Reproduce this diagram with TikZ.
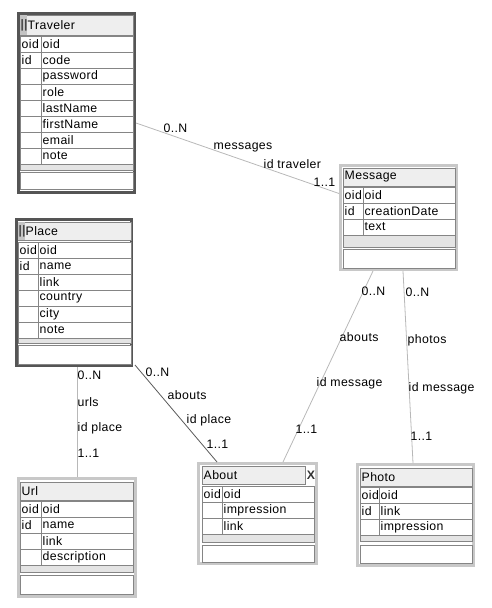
\documentclass[tikz,border=0pt]{standalone}
\usepackage{fontspec}
\setmainfont[LetterSpace=3]{Liberation Sans}
\usepackage{xcolor}
\usetikzlibrary{calc}

\definecolor{framedark}{HTML}{555555}
\definecolor{framelight}{HTML}{C8C8C8}
\definecolor{cellline}{HTML}{858585}
\definecolor{titlefill}{HTML}{EEEEEE}
\definecolor{stripfill}{HTML}{E4E4E4}
\definecolor{markfill}{HTML}{C4C4C4}
\definecolor{linklight}{HTML}{B8B8B8}
\definecolor{linkdark}{HTML}{5A5A5A}

\tikzset{
  darkframe/.style={draw=framedark, fill=white, line width=3pt, inner sep=0pt},
  lightframe/.style={draw=framelight, fill=white, line width=3pt, inner sep=0pt},
  cell/.style={draw=cellline, fill=white, line width=0.8pt},
  titlebox/.style={draw=cellline, fill=titlefill, line width=0.8pt},
  strip/.style={draw=cellline, fill=stripfill, line width=0.8pt},
  lbl/.style={anchor=west, inner sep=1.5pt, font=\fontsize{12.3}{14}\selectfont},
  link/.style={draw=linklight, line width=0.8pt},
}

\begin{document}
\begin{tikzpicture}[x=1pt, y=-1pt]
\useasboundingbox (0,0) rectangle (491,608);

% Traveler
\node[darkframe, minimum width=116, minimum height=179] (traveler) at (76.5,103) {};
\draw[titlebox] (20,15) rectangle (133,35);
\fill[markfill] (20.4,15.4) rectangle (27,34.6);
\node[lbl, inner sep=0.5pt] (traveler-mark) at (20,25) {||};
\node[lbl, inner sep=0.5pt] (traveler-title) at (27,25) {Traveler};
\foreach \k/\n [count=\i] in {oid/oid, id/code, /password, /role, /lastName, /firstName, /email, /note}{
  \pgfmathsetmacro\y{36+16*(\i-1)}
  \draw[cell] (20,\y) rectangle (41,\y+16);
  \draw[cell] (41,\y) rectangle (133,\y+16);
  \node[lbl] (traveler-k\i) at (20,\y+8) {\k};
  \node[lbl] (traveler-n\i) at (41,\y+8) {\n};
}
\draw[strip] (20,164) rectangle (133,170);
\draw[cell] (20,172) rectangle (133,189);

% Place
\node[darkframe, minimum width=115, minimum height=146] (place) at (74,292.5) {};
\draw[titlebox] (18,222) rectangle (131,240);
\fill[markfill] (18.4,222.4) rectangle (25,239.6);
\node[lbl, inner sep=0.5pt] (place-mark) at (18,231) {||};
\node[lbl, inner sep=0.5pt] (place-title) at (25,231) {Place};
\foreach \k/\n [count=\i] in {oid/oid, id/name, /link, /country, /city, /note}{
  \pgfmathsetmacro\y{242+16*(\i-1)}
  \draw[cell] (18,\y) rectangle (38,\y+16);
  \draw[cell] (38,\y) rectangle (131,\y+16);
  \node[lbl] (place-k\i) at (18,\y+8) {\k};
  \node[lbl] (place-n\i) at (38,\y+8) {\n};
}
\draw[strip] (18,338) rectangle (131,343);
\draw[cell] (18,345) rectangle (131,364);

% Message
\node[lightframe, minimum width=116, minimum height=104] (message) at (398.5,217.5) {};
\draw[titlebox] (343,168) rectangle (455,186);
\node[lbl] (message-title) at (343,177) {Message};
\foreach \k/\n [count=\i] in {oid/oid, id/creationDate, /text}{
  \pgfmathsetmacro\y{187+16*(\i-1)}
  \draw[cell] (343,\y) rectangle (363,\y+16);
  \draw[cell] (363,\y) rectangle (455,\y+16);
  \node[lbl] (message-k\i) at (343,\y+8) {\k};
  \node[lbl] (message-n\i) at (363,\y+8) {\n};
}
\draw[strip] (343,235) rectangle (455,247);
\draw[cell] (343,249) rectangle (455,268);

% Url
\node[lightframe, minimum width=117, minimum height=118] (url) at (77,537.5) {};
\draw[titlebox] (20,482) rectangle (133,500);
\node[lbl] (url-title) at (20,491) {Url};
\foreach \k/\n [count=\i] in {oid/oid, id/name, /link, /description}{
  \pgfmathsetmacro\y{501+16*(\i-1)}
  \draw[cell] (20,\y) rectangle (41,\y+16);
  \draw[cell] (41,\y) rectangle (133,\y+16);
  \node[lbl] (url-k\i) at (20,\y+8) {\k};
  \node[lbl] (url-n\i) at (41,\y+8) {\n};
}
\draw[strip] (20,565) rectangle (133,572);
\draw[cell] (20,575) rectangle (133,594);

% About
\node[lightframe, minimum width=118, minimum height=100] (about) at (257.5,513.5) {};
\draw[titlebox] (202,466) rectangle (305,484);
\node[lbl] (about-title) at (202,475) {About};
\node[font=\bfseries\fontsize{12.3}{14}\selectfont, text=black!80, inner sep=0pt] (about-x) at (311,475) {X};
\foreach \k/\n [count=\i] in {oid/oid, /impression, /link}{
  \pgfmathsetmacro\y{486+16*(\i-1)}
  \draw[cell] (202,\y) rectangle (222,\y+16);
  \draw[cell] (222,\y) rectangle (314,\y+16);
  \node[lbl] (about-k\i) at (202,\y+8) {\k};
  \node[lbl] (about-n\i) at (222,\y+8) {\n};
}
\draw[strip] (202,534) rectangle (314,542);
\draw[cell] (202,545) rectangle (314,562);

% Photo
\node[lightframe, minimum width=116, minimum height=101] (photo) at (415.5,515) {};
\draw[titlebox] (360,468) rectangle (472,486);
\node[lbl] (photo-title) at (360,477) {Photo};
\foreach \k/\n [count=\i] in {oid/oid, id/link, /impression}{
  \pgfmathsetmacro\y{487+16*(\i-1)}
  \draw[cell] (360,\y) rectangle (379,\y+16);
  \draw[cell] (379,\y) rectangle (472,\y+16);
  \node[lbl] (photo-k\i) at (360,\y+8) {\k};
  \node[lbl] (photo-n\i) at (379,\y+8) {\n};
}
\draw[strip] (360,535) rectangle (472,541);
\draw[cell] (360,545) rectangle (472,563);

% links
\draw[link] ($(traveler.east)+(0,20)$) -- ($(message.west)+(0,-24)$);
\draw[link] (url.north |- place.south) -- (url.north);
\draw[link, draw=linkdark] ($(place.south east)+(2,-2)$) -- ($(about.north west)+(20,0)$);
\draw[link] ($(message.south)+(-25.5,0)$) -- ($(about.north)+(25.5,0)$);
\draw[link] ($(message.south)+(4.5,0)$) -- ($(photo.north)+(-2.5,0)$);

% link labels
\node[lbl] (tm-card1) at (162,128) {0..N};
\node[lbl] (tm-role) at (212,147) {messages};
\node[lbl] (tm-key) at (262,164) {id traveler};
\node[lbl] (tm-card2) at (312,182) {1..1};

\node[lbl] (pu-card1) at (76,375) {0..N};
\node[lbl] (pu-role) at (76,402) {urls};
\node[lbl] (pu-key) at (76,428) {id place};
\node[lbl] (pu-card2) at (76,453) {1..1};

\node[lbl] (pa-card1) at (144,372) {0..N};
\node[lbl] (pa-role) at (166,395) {abouts};
\node[lbl] (pa-key) at (185,420) {id place};
\node[lbl] (pa-card2) at (205,444) {1..1};

\node[lbl] (ma-card1) at (360,291) {0..N};
\node[lbl] (ma-role) at (338,337) {abouts};
\node[lbl] (ma-key) at (315,383) {id message};
\node[lbl] (ma-card2) at (294,429) {1..1};

\node[lbl] (mp-card1) at (404,292) {0..N};
\node[lbl] (mp-role) at (406,340) {photos};
\node[lbl] (mp-key) at (407,388) {id message};
\node[lbl] (mp-card2) at (409,436) {1..1};

\end{tikzpicture}
\end{document}
